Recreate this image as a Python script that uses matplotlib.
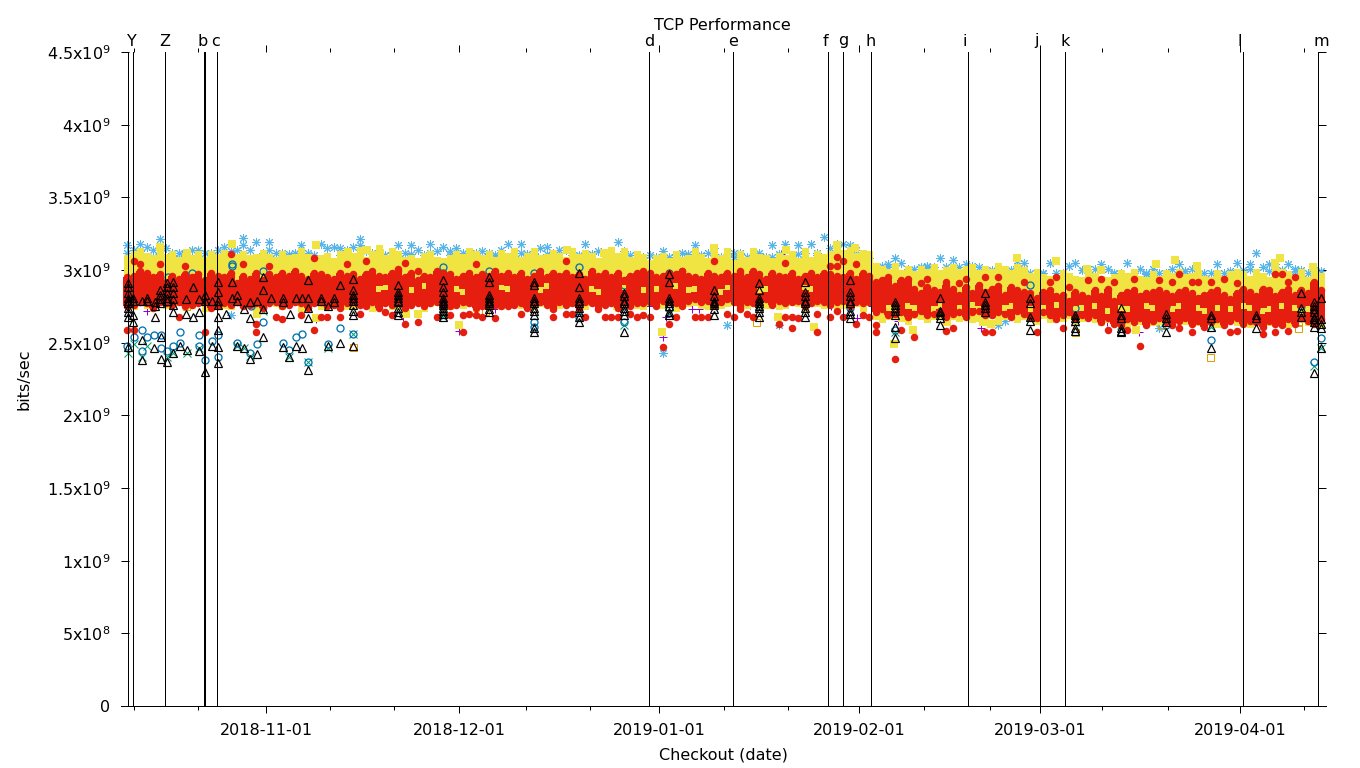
import matplotlib
matplotlib.use('Agg')
import matplotlib.pyplot as plt
import matplotlib.dates as mdates
import numpy as np
from datetime import datetime

# all days are counted from 2018-11-01, all values are in units of 1e7 bits/sec
FIRST_DAY = -22

star_hi = [
    317,314,318,316,314,321,315,312,312,311,
    314,314,312,312,314,316,313,314,322,314,
    319,312,319,312,312,311,312,317,312,310,
    318,315,316,315,314,316,321,313,312,311,
    310,312,317,312,317,314,310,318,313,316,
    313,315,312,312,312,313,312,310,314,318,
    312,318,311,311,315,316,312,314,314,310,
    310,318,311,313,312,312,319,313,310,309,
    309,310,308,313,309,309,312,311,317,310,
    312,315,309,309,312,312,309,309,312,309,
    317,311,318,310,317,312,318,312,323,315,
    317,318,317,314,303,308,302,303,302,308,
    305,301,301,302,302,302,308,302,307,302,
    304,302,302,300,300,300,300,300,306,305,
    298,298,298,305,298,298,303,305,300,301,
    301,304,301,298,298,305,298,301,298,301,
    298,298,301,304,299,301,298,298,298,304,
    298,298,305,300,304,312,302,299,304,300,
    304,301,300,298,300,299]
star2_days = [-21.5,-19.5,-3.5,0.5,5.5,14.5,39.5,41.5,82.5,88.5,149.5,155.5,-16.5,-13.5,22.5,25.5,
              61.5,71.5,79.5,25.5,20.5,113.5,114.5,138.5,-5.5,
              -17.5,-12.5,-8.5,3.5,11.5,17.5,24.5,28.5,31.5,35.5,43.5,47.5,53.5,57.5,60.5,63.5,72.5,
              78.5,85.5,89.5,92.5,96.5,102.5,109.5,116.5,120.5,126.5,131.5,136.5,142.5,147.5,152.5,159.5]
star2_vals = [312,313,317,314,312,317,312,312,311,318,299,304,308,308,311,312,
              243,262,262,306,283,262,265,260,269,
              309,310,311,309,310,311,310,310,311,310,311,310,311,310,309,310,309,
              309,310,311,309,304,303,303,303,298,300,298,297,299,298,301,299]

yellow_top = [
    310,313,315,312,310,316,311,313,309,312,
    310,313,309,313,311,314,309,311,313,310,
    311,314,311,309,313,310,311,315,311,309,
    310,312,308,313,315,312,316,309,313,317,
    310,315,313,309,310,308,312,313,309,308,
    310,313,311,315,313,310,313,309,314,312,
    315,309,312,315,310,311,314,312,309,315,
    311,314,312,308,313,316,312,315,309,313,
    311,307,310,312,308,313,309,310,315,311,
    308,313,310,315,307,313,309,315,311,310,
    308,312,310,313,308,315,309,313,311,313,
    317,314,316,312,314,313,305,303,301,305,
    300,303,299,303,301,304,300,302,304,301,
    303,304,300,303,301,305,303,300,304,302,
    298,301,297,296,295,300,298,296,295,301,
    298,296,295,297,300,298,301,296,295,299,
    296,300,298,301,297,298,300,296,295,300,
    296,299,301,299,296,301,298,295,302,301,
    299,296,301,295,301,298]
yellow_low = [
    275,273,276,274,272,276,274,275,276,273,
    274,276,272,275,276,274,273,276,275,274,
    272,274,276,275,273,275,276,272,275,276,
    273,274,275,276,273,274,276,275,272,275,
    276,273,274,276,275,276,272,275,276,274,
    273,276,274,275,272,276,275,274,273,276,
    275,274,276,273,275,276,272,274,276,275,
    274,273,276,274,275,276,272,275,276,274,
    273,276,275,274,276,272,274,275,276,274,
    273,276,274,275,276,272,274,276,275,274,
    276,273,274,276,275,272,276,275,274,276,
    273,274,276,275,272,276,266,264,266,267,
    265,263,267,266,264,266,267,263,266,265,
    267,264,265,266,267,263,266,267,264,266,
    265,263,267,264,266,265,267,263,265,266,
    264,262,264,265,263,261,265,263,264,262,
    263,264,261,264,263,265,262,263,264,261,
    263,264,262,265,261,263,264,262,263,264,
    261,263,264,262,263,261]
yellow2_days = [-16.4,-12.2,-5.3,7.7,12.7,-1.4,7.7,61.4,69.5,80.6,79.4,85,88.5,91.3,30,15.6,21.7,17.7,23.6,
                46.7,52.4,54.4,97.4,100.3,105.6,111.2,112.4,116.4,122.5,127.3,129.5,134.9,138,141,144.3,
                157.2,156.4,162.3]
yellow2_vals = [316,312,318,317,312,270,267,257,315,314,268,261,317,315,262,314,270,312,270,
                314,312,275,249,259,264,264,263,308,306,301,300,259,304,307,303,
                308,305,302]

red_top = [
    295,296,299,298,295,297,292,296,294,297,
    295,297,293,298,296,295,298,291,296,294,
    298,293,297,295,298,296,299,296,294,298,
    297,295,294,298,296,297,294,297,299,296,
    295,298,299,295,298,293,296,295,299,298,
    297,294,296,298,295,297,296,299,296,298,
    295,298,294,296,299,295,298,296,298,295,
    297,294,299,296,298,295,298,293,296,298,
    299,298,295,296,298,297,299,296,295,294,
    298,296,295,298,296,298,295,299,297,294,
    298,296,295,298,294,296,298,295,298,297,
    296,295,298,294,298,296,292,293,295,289,
    293,294,287,284,288,286,285,290,287,283,
    288,284,290,285,287,289,283,288,286,285,
    284,281,285,286,282,283,279,285,283,281,
    286,282,287,279,283,285,286,282,284,285,
    286,284,282,285,286,284,281,283,285,286,
    283,280,284,287,285,282,287,286,282,285,
    287,283,286,284,292,286]
red_low = [
    275,276,278,277,274,278,277,276,278,275,
    276,277,278,274,275,277,276,278,275,276,
    277,274,277,278,275,276,278,277,274,277,
    278,275,276,274,277,278,276,275,278,274,
    277,276,278,274,276,277,275,277,278,276,
    275,276,278,277,274,275,277,276,278,275,
    276,277,274,277,278,276,275,278,276,277,
    274,278,277,275,276,277,274,278,275,277,
    277,278,275,279,278,277,275,279,280,278,
    279,276,278,280,278,275,278,277,279,280,
    276,279,277,278,279,275,277,279,278,276,
    278,279,275,278,277,278,271,273,269,270,
    271,268,270,272,269,270,272,268,270,271,
    268,271,272,269,269,271,270,268,272,270,
    268,267,271,269,266,269,271,267,269,267,
    269,264,267,263,262,266,264,267,262,265,
    267,264,262,265,267,263,265,261,264,266,
    262,265,267,263,265,264,261,265,263,262,
    266,263,267,265,263,266]
# holes inside a red column, where yellow shows through
gap_days = [17,18,22,24,29,30,36,37,42,43,50,51,55,58,60,63,65,66,70,71,76,77,83,84,
            96,97,99,100,103,104,107,109,110,114,115,118,120,122,125,126,128,130,132,133,136,137,
            140,141,144,145,147,149,151,152,154,155,157,159,160,161]
gap_lo = [285,286,284,287,285,283,286,285,284,287,285,283,286,284,285,287,284,285,283,286,284,285,286,285,
          272,271,273,272,271,273,272,274,271,272,273,271,272,274,271,272,273,270,272,271,273,272,
          271,273,272,270,272,271,273,272,270,271,273,272,270,271]
gap_hi = [289,290,288,291,289,287,290,289,288,291,289,287,290,288,289,291,288,289,287,290,288,289,290,289,
          276,275,277,276,275,277,276,278,275,276,277,275,276,278,275,276,277,274,276,275,277,276,
          275,277,276,274,276,275,277,276,274,275,277,276,274,275]
red2_days = [
    -21,-20,-17,-13,-6,-4,0,7,12,15,20,21,23,32,46,64,69,73,80,87,88,88,89,91,97,101,102,105,107,108,
    111,113,117,121,122,124,127,129,131,134,138,140,141,143,144,146,148,150,156,157,158,159,
    -22,-21,-10,-2,-2,7,-14,1,2,5,8,9,11,14,18,19,21,23,26,28,30,30,31,32,33,35,36,39,44,44,46,47,49,
    51,52,53,54,56,57,58,59,61,62,63,66,67,68,71,72,73,74,75,79,80,81,81,82,85,85,87,88,89,91,92,93,
    94,94,97,98,100,105,106,111,112,119,123,130,133,135,141,143,149,150,154,156,158]
red2_vals = [
    306,304,304,303,311,304,303,308,304,306,301,305,299,304,306,299,306,299,305,303,309,303,306,304,
    288,291,294,292,291,294,295,295,292,292,295,288,293,294,292,294,293,292,297,292,292,292,294,291,
    297,297,292,295,
    259,259,257,263,257,259,268,268,266,269,268,268,268,270,271,269,263,264,268,269,269,257,270,269,
    268,267,275,270,268,273,270,270,268,273,268,268,268,270,268,269,268,247,263,268,268,268,268,270,
    268,273,270,268,263,268,268,260,267,270,257,268,272,268,263,269,268,262,257,239,259,254,258,260,
    257,257,257,260,259,259,248,260,257,257,258,256,257,258]

circle_days = [
    -19.2,-20.4,-18.4,-17.4,-16.3,-21.5,-19.2,-16.3,-15.3,-14.4,-13.3,-13.3,-10.4,-10.4,-9.5,-8.4,-7.4,-7.4,
    -4.5,-2.5,-1.4,2.6,3.6,4.7,5.6,6.5,9.6,11.5,13.5,-11.5,-0.5,-5.3,-5.3,-0.5,-2.3,-15.2,
    27.4,27.4,34.6,41.5,41.5,41.5,48.5,48.5,55.5,55.5,55.5,62.5,62.5,69.5,90.5,97.5,118.5,125.5,132.5,139.5,
    139.5,146.5,153.5,160.5,162.5,163.5]
circle_vals = [
    259,254,254,255,255,248,244,246,244,248,257,250,255,248,238,251,255,240,
    250,243,249,250,245,254,256,237,249,260,256,298,299,303,304,264,275,295,
    302,298,299,298,264,261,302,268,290,275,264,298,274,291,274,259,290,274,264,275,
    262,252,274,275,237,253]

green_days = [-21.4,-20.4,-18.4,-14.4,-12.2,-10.4,-4.5,-3.4,-2.5,3.6,6.5,9.6,13.5,-0.5,62.5,146.5,163.5,162.5,
              132.5,125.5,27.4,55.5,-19.2,-15.3,97.5]
green_vals = [243,249,248,243,243,246,248,246,241,240,237,246,256,272,270,261,246,234,
              262,264,268,262,240,240,257]

plus_days = [61.5,66,67.1,62,75,87.6,91.6,98,103,94,110.8,120.5,121.6,123.4,130.4,135.3,141.4,79.9,22.6,21.2,
             30,35.5,59.4,-18.4,5.8,7.7]
plus_vals = [254,273,273,268,276,275,267,265,278,275,260,272,271,285,264,257,264,311,298,268,
             258,273,275,272,276,266]

orange_days = [13.5,76,125.5,146.4,160,160,138.7,-12.4,48,34]
orange_vals = [247,264,257,240,260,264,262,275,307,272]

# triangles, the runs up to mid november
tri_days = [
    -21.4,-21.4,-21.4,-21.4,-21.4,-21.4,-21.4,-21.4,-20.6,-20.6,-20.6,-19.2,-19.2,-18.4,-17.4,-17.2,-17.2,
    -16.4,-16.4,-16.3,-16.3,-15.3,-15.3,-15.3,-15.3,-14.4,-14.4,-14.4,-14.4,-14.4,-14.4,-13.3,-12.4,-12.2,
    -11.3,-11.3,-10.4,-10.4,-9.5,-9.5,-8.4,-7.4,-7.4,-7.4,-7.4,-7.4,-7.4,-6.2,-5.3,-4.5,-4.5,-3.4,-3.4,
    -2.5,-2.5,-1.4,-0.5,-0.5,-0.5,-0.5,0.8,2.6,2.6,3.7,3.6,4.7,4.7,5.6,5.6,6.5,6.5,6.5,6.5,6.5,8.5,9.6,9.6,
    10.5,11.5,11.5,
    -18.4,-19.2,-15.3,-14.4,-12.4,-10.4,-9.5,-8.4,-7.4,-7.4,-5.3,-4.5,-2.5,-1.4,2.6,8.5,10.5,-21.4,-21.4,-20.6,
    -16.4,-16.4,-17.2,-15.3]
tri_vals = [
    291,288,284,281,277,274,268,247,281,269,264,252,238,281,246,268,275,
    283,280,254,239,291,288,284,237,292,288,284,280,271,243,248,270,245,
    288,268,271,244,283,230,248,292,279,268,259,247,236,270,292,279,248,273,246,
    267,239,242,295,286,273,254,281,281,247,270,240,281,248,281,246,293,281,274,267,231,281,275,248,
    281,290,250,
    279,279,279,276,280,280,279,279,285,276,281,283,278,279,278,279,278,279,271,279,
    286,277,278,281]
# weekly runs after that
week_days = [13.5,20.5,27.5,34.5,41.5,48.5,55.5,62.5,69.5,76.5,83.5,90.5,97.5,104.5,111.5,118.5,125.5,
             132.5,139.5,146.5,153.5,160.5,162.5,163.5]
week_vals = [
    [294,286,283,281,279,276,272,269,248],
    [290,285,283,281,279,278,274,271,269],
    [293,288,285,281,279,277,276,274,272,270,268],
    [295,292,283,281,279,277,276,273,271],
    [292,290,281,279,277,274,272,269,260,257],
    [298,288,281,279,277,274,271,268,264],
    [284,282,279,277,274,272,269,257],
    [297,292,281,279,277,275,271,269],
    [286,282,279,277,276,273,269],
    [291,286,281,279,277,275,274,271,268],
    [292,285,282,279,277,274,271,268],
    [293,285,282,279,277,272,270,267],
    [278,276,274,272,269,261,253],
    [281,272,271,269,267,262],
    [284,278,276,274,271],
    [281,277,268,265,259],
    [269,267,265,260,258],
    [274,269,267,260,258,257],
    [270,267,264,257],
    [269,267,261,246],
    [269,267,260],
    [284,274,271,268],
    [278,275,273,271,268,266,264,261,229],
    [281,266,263,260,246]]

event_days = [-21.4,-20.6,-15.7,-9.68,-9.52,-7.6,59.4,72.4,87.1,89.5,93.8,108.8,120,123.9,151.5,163.1]
label_days = [-20.8,-15.7,-9.8,-7.8,59.4,72.4,86.8,89.5,93.8,108.4,119.5,123.9,151,163.6]
event_labels = ['Y','Z','b','c','d','e','f','g','h','i','j','k','l','m']

major_dates = ['2018-11-01','2018-12-01','2019-01-01','2019-02-01','2019-03-01','2019-04-01']
minor_days = [-20.5,-10.5,9.9,19.8,40.3,50.2,71,81,102,112.2,129.6,139.8,161]
ytick_vals = [0,5e8,1e9,1.5e9,2e9,2.5e9,3e9,3.5e9,4e9,4.5e9]
ytick_labels = ['0','5x10$^{8}$','1x10$^{9}$','1.5x10$^{9}$','2x10$^{9}$','2.5x10$^{9}$','3x10$^{9}$',
                '3.5x10$^{9}$','4x10$^{9}$','4.5x10$^{9}$']

PX = 0.72  # one pixel in points at dpi 100
UNIT = 1e7
base = mdates.date2num(datetime(2018, 11, 1))


def to_num(dates):
    return [mdates.date2num(datetime.strptime(d, '%Y-%m-%d')) for d in dates]


def red_segments():
    # one stretch per red column, two where the column has a hole
    xs, lows, tops = [], [], []
    for i, top in enumerate(red_top):
        day = FIRST_DAY + i
        low = red_low[i]
        if day in gap_days:
            k = gap_days.index(day)
            xs += [day, day]
            lows += [low, gap_hi[k]]
            tops += [gap_lo[k], top]
        else:
            xs.append(day)
            lows.append(low)
            tops.append(top)
    return base + 0.5 + np.array(xs), np.array(lows)*UNIT, np.array(tops)*UNIT


plt.rcParams['mathtext.default'] = 'regular'
plt.rcParams['font.size'] = 11.5

fig = plt.figure(figsize=(13.6, 7.68), dpi=100)
ax = fig.add_axes([121/1360, 1-706/768, (1326-121)/1360, (706-52)/768])

day_x = base + FIRST_DAY + 0.5 + np.arange(len(red_top))
week_x = [base + d for d, vals in zip(week_days, week_vals) for v in vals]
week_y = [v*UNIT for vals in week_vals for v in vals]

# same drawing order as the original: + x * open square, yellow, open circle, red, triangle
ax.plot(base+np.array(plus_days), np.array(plus_vals)*UNIT, '+', color='#9400d3', ms=8*PX, mew=PX, zorder=2,
        antialiased=False)
ax.plot(base+np.array(green_days), np.array(green_vals)*UNIT, 'x', color='#009e73', ms=8*PX, mew=PX, zorder=3,
        antialiased=False)
star_kw = dict(linestyle='none', marker=(8, 2, 0), color='#56b4e9', ms=9*PX, mew=PX, zorder=4, antialiased=False)
ax.plot(day_x, np.array(star_hi)*UNIT, **star_kw)
ax.plot(base+np.array(star2_days), np.array(star2_vals)*UNIT, **star_kw)
ax.plot(base+np.array(orange_days), np.array(orange_vals)*UNIT, 's', mfc='none', mec='#e69f00', ms=7*PX, mew=PX,
        zorder=5, antialiased=False)
ax.vlines(day_x, np.array(yellow_low)*UNIT, np.array(yellow_top)*UNIT, color='#f0e442', lw=7*PX, zorder=6,
          antialiased=False)
ax.plot(base+np.array(yellow2_days), np.array(yellow2_vals)*UNIT, 's', color='#f0e442', ms=7.5*PX, mew=0, zorder=6,
        antialiased=False)
ax.plot(base+np.array(circle_days), np.array(circle_vals)*UNIT, 'o', mfc='none', mec='#0072b2', ms=7*PX, mew=1.3*PX,
        zorder=7, antialiased=False)
seg_x, seg_low, seg_top = red_segments()
ax.vlines(seg_x, seg_low, seg_top, color='#e51e10', lw=6.2*PX, zorder=8, antialiased=False)
red_kw = dict(linestyle='none', marker='o', color='#e51e10', ms=7.5*PX, mew=0, zorder=8, antialiased=False)
ax.plot(day_x, np.array(red_low)*UNIT, **red_kw)
ax.plot(day_x, np.array(red_top)*UNIT, **red_kw)
ax.plot(base+0.5+np.array(red2_days), np.array(red2_vals)*UNIT, **red_kw)
tri_kw = dict(linestyle='none', marker='^', mfc='none', mec='black', ms=8.5*PX, mew=1.2*PX, zorder=9, antialiased=False)
ax.plot(base+np.array(tri_days), np.array(tri_vals)*UNIT, **tri_kw)
ax.plot(week_x, week_y, **tri_kw)

for d in event_days:
    ax.axvline(base+d, color='black', lw=PX, zorder=10)
for d, lab in zip(label_days, event_labels):
    ax.annotate(lab, xy=(base+d, 1), xycoords=('data', 'axes fraction'), xytext=(0, 11*PX),
                textcoords='offset points', ha='center', va='center')

ax.set_xlim(base-22.48, base+164.34)
ax.set_ylim(0, 4.5e9)
for s in ['left', 'right', 'top']:
    ax.spines[s].set_visible(False)
ax.spines['bottom'].set_linewidth(PX)

ax.set_xticks(to_num(major_dates))
ax.set_xticks([base+d for d in minor_days], minor=True)
ax.xaxis.set_major_formatter(mdates.DateFormatter('%Y-%m-%d'))
ax.tick_params(axis='x', which='major', top=True, direction='out', length=7*PX, width=PX, pad=7)
ax.tick_params(axis='x', which='minor', top=True, direction='out', length=4*PX, width=PX)
ax.set_yticks(ytick_vals)
ax.set_yticklabels(ytick_labels)
ax.tick_params(axis='y', which='major', left=True, right=True, direction='in', length=8*PX, width=PX, pad=7.5)

ax.set_ylabel('bits/sec', labelpad=11)
ax.set_xlabel('Checkout (date)', labelpad=7)
fig.text(722/1360, 1-25/768, 'TCP Performance', ha='center', va='center')

fig.savefig('out.png', dpi=100)
plt.close(fig)
